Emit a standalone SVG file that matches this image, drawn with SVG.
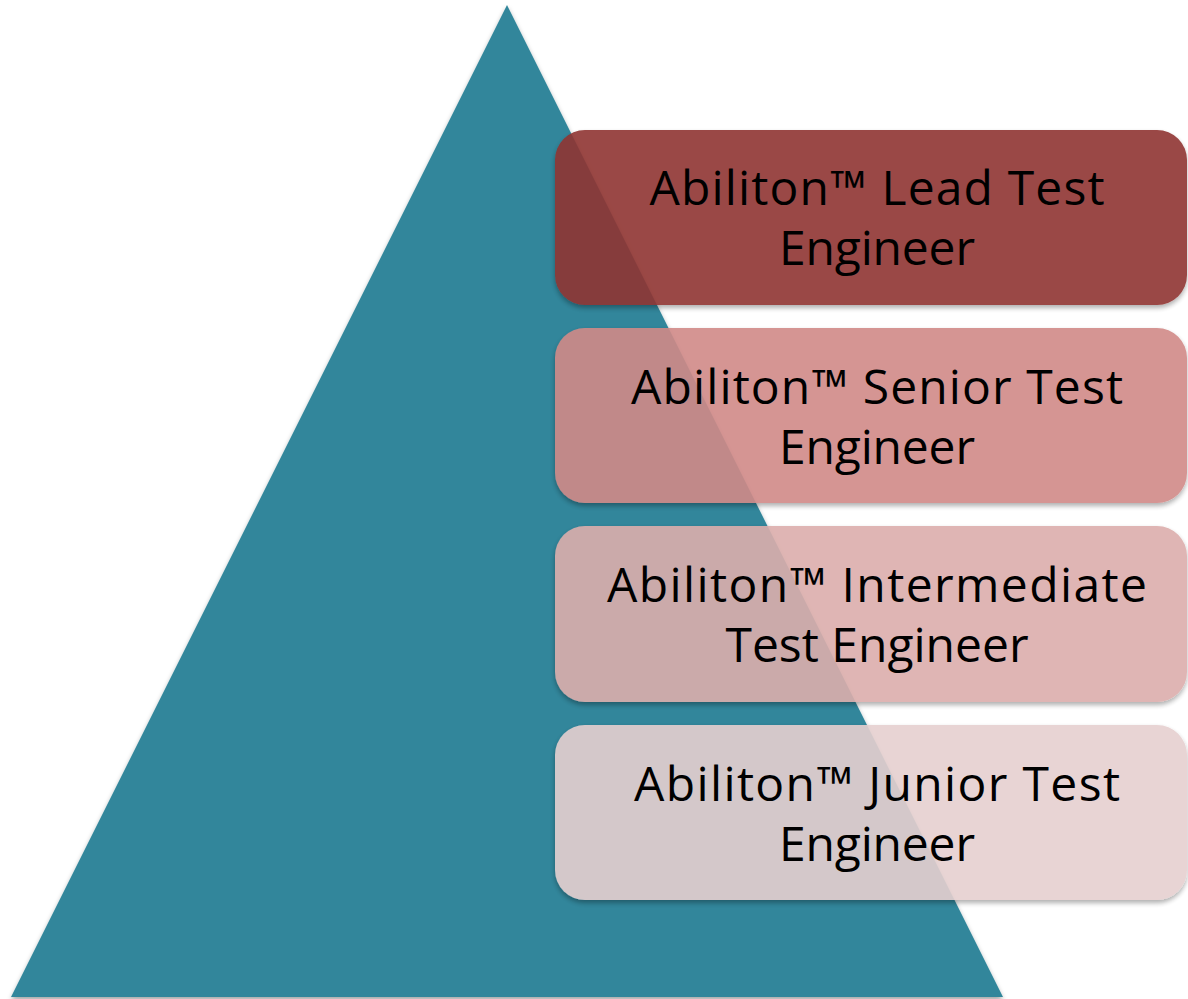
<svg xmlns="http://www.w3.org/2000/svg" width="1188" height="999" viewBox="0 0 1188 999">
<style>
.lbl{font-family:"Open Sans","Liberation Sans",sans-serif;font-size:48px;fill:#000;text-anchor:middle}
.box{opacity:0.9;filter:url(#sh)}
</style>
<defs>
<filter id="sh" x="-5%" y="-10%" width="110%" height="125%">
<feDropShadow dx="0" dy="3" stdDeviation="2.5" flood-color="#000" flood-opacity="0.35"/>
</filter>
</defs>
<rect width="1188" height="999" fill="#fff"/>
<g id="pyramid">
<polygon points="507,5 1003,997 11,997" fill="#31869B" filter="url(#sh)"/>
</g>
<g id="connectors"></g>
<g id="lead">
<rect class="box" x="555" y="130" width="632" height="175" rx="30" fill="#903431"/>
<text class="lbl" x="877" y="205" textLength="455" lengthAdjust="spacing">Abiliton™ Lead Test</text>
<text class="lbl" x="877" y="265" textLength="196" lengthAdjust="spacing">Engineer</text>
</g>
<g id="senior">
<rect class="box" x="555" y="328" width="632" height="175" rx="30" fill="#D18A88"/>
<text class="lbl" x="877" y="404" textLength="492" lengthAdjust="spacing">Abiliton™ Senior Test</text>
<text class="lbl" x="877" y="464" textLength="196" lengthAdjust="spacing">Engineer</text>
</g>
<g id="intermediate">
<rect class="box" x="555" y="526" width="632" height="176" rx="30" fill="#DCAEAC"/>
<text class="lbl" x="877" y="602" textLength="540" lengthAdjust="spacing">Abiliton™ Intermediate</text>
<text class="lbl" x="877" y="662" textLength="303" lengthAdjust="spacing">Test Engineer</text>
</g>
<g id="junior">
<rect class="box" x="555" y="725" width="632" height="175" rx="30" fill="#E6D0D0"/>
<text class="lbl" x="877" y="801" textLength="486" lengthAdjust="spacing">Abiliton™ Junior Test</text>
<text class="lbl" x="877" y="861" textLength="196" lengthAdjust="spacing">Engineer</text>
</g>
</svg>
